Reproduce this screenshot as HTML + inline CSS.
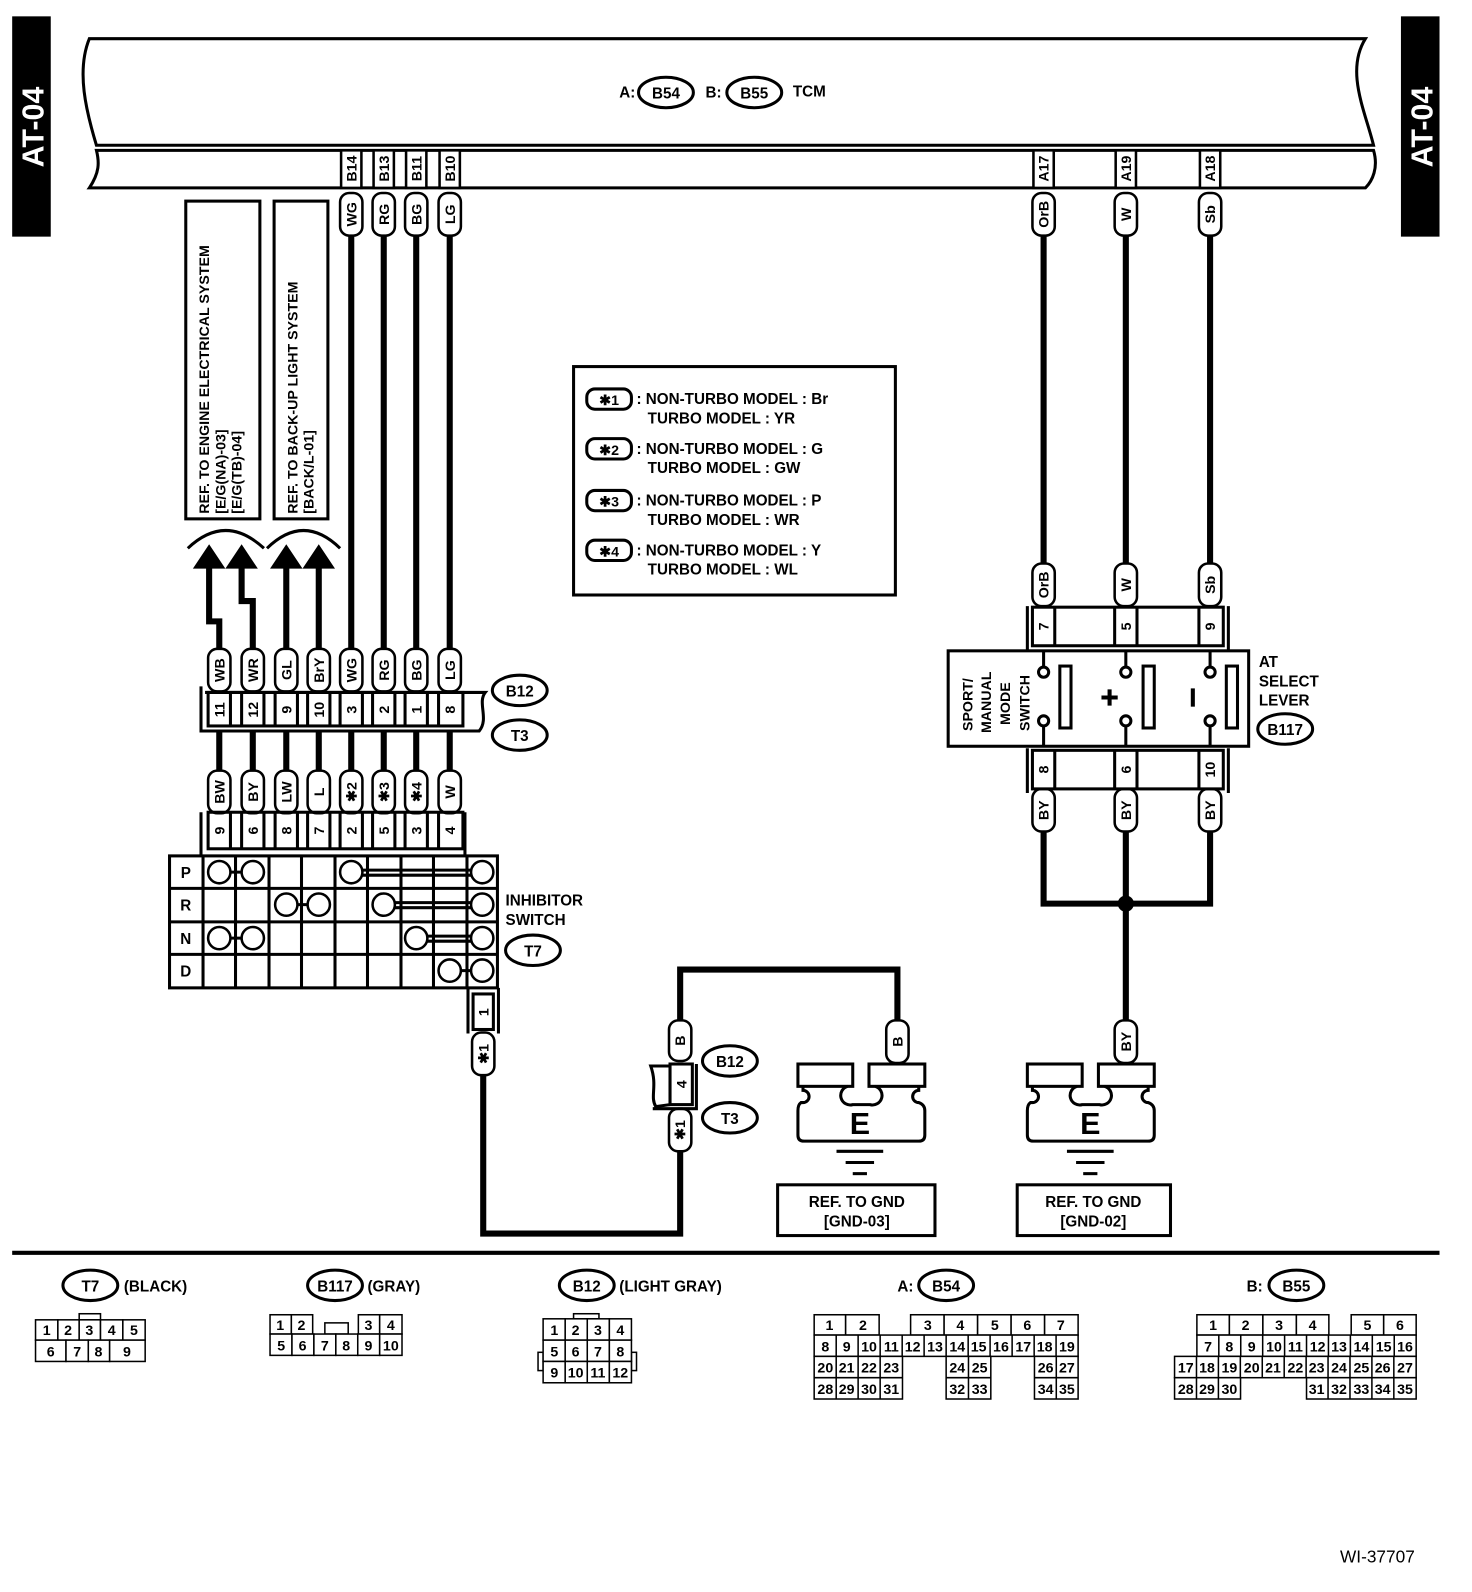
<!DOCTYPE html>
<html><head><meta charset="utf-8">
<style>
html,body{margin:0;padding:0;background:#fff;}
svg{display:block;}
text{font-family:"Liberation Sans",Arial,sans-serif;font-weight:bold;fill:#000;}
.w{fill:none;stroke:#000;stroke-width:6;}
.o{fill:#fff;stroke:#000;stroke-width:2.5;}
.b{fill:none;stroke:#000;stroke-width:3;}
.t{font-size:14px;}
.n{font-size:14px;font-weight:normal;}
</style></head><body>
<svg width="1472" height="1592" viewBox="0 0 1450 1568" xmlns="http://www.w3.org/2000/svg">
<rect x="12" y="16" width="38" height="217" fill="#000"/>
<text transform="translate(43,125) rotate(-90)" text-anchor="middle" font-size="30" style="fill:#fff">AT-04</text>
<rect x="1380" y="16" width="38" height="217" fill="#000"/>
<text transform="translate(1411,125) rotate(-90)" text-anchor="middle" font-size="30" style="fill:#fff">AT-04</text>

<path d="M88 38 L1345 38 C1325 70,1345 110,1353 143 L95 143 C85 110,75 70,88 38 Z" class="b"/>
<path d="M95 148 L1353 148 C1358 165,1352 178,1345 185 L88 185 C98 170,98 160,95 148 Z" class="b"/>
<text x="610" y="96" font-size="15">A:</text>
<ellipse cx="656" cy="91" rx="27" ry="15" class="b"/>
<text x="656" y="97" font-size="15" text-anchor="middle">B54</text>
<text x="695" y="96" font-size="15">B:</text>
<ellipse cx="743" cy="91" rx="27" ry="15" class="b"/>
<text x="743" y="97" font-size="15" text-anchor="middle">B55</text>
<text x="781" y="95" font-size="15">TCM</text>

<g class="o">
<rect x="336" y="148" width="20" height="37"/><rect x="368" y="148" width="20" height="37"/><rect x="400" y="148" width="20" height="37"/><rect x="433" y="148" width="20" height="37"/>
<rect x="1018" y="148" width="20" height="37"/><rect x="1099" y="148" width="20" height="37"/><rect x="1182" y="148" width="20" height="37"/>
</g>
<g class="t" text-anchor="middle">
<text transform="translate(351,166) rotate(-90)">B14</text>
<text transform="translate(383,166) rotate(-90)">B13</text>
<text transform="translate(415,166) rotate(-90)">B11</text>
<text transform="translate(448,166) rotate(-90)">B10</text>
<text transform="translate(1033,166) rotate(-90)">A17</text>
<text transform="translate(1114,166) rotate(-90)">A19</text>
<text transform="translate(1197,166) rotate(-90)">A18</text>
</g>

<g class="w">
<line x1="346" y1="230" x2="346" y2="640"/><line x1="378" y1="230" x2="378" y2="640"/><line x1="410" y1="230" x2="410" y2="640"/><line x1="443" y1="230" x2="443" y2="640"/>
<line x1="1028" y1="230" x2="1028" y2="556"/><line x1="1109" y1="230" x2="1109" y2="556"/><line x1="1192" y1="230" x2="1192" y2="556"/>
<path d="M1028 818 L1028 890 L1192 890 L1192 818 M1109 818 L1109 1006"/>
<path d="M670 1006 L670 955 L884 955 L884 1006"/>
<path d="M670 1134 L670 1215 L476 1215 L476 1058"/>
<line x1="216" y1="720" x2="216" y2="760"/><line x1="249" y1="720" x2="249" y2="760"/><line x1="282" y1="720" x2="282" y2="760"/><line x1="314" y1="720" x2="314" y2="760"/>
<line x1="346" y1="720" x2="346" y2="760"/><line x1="378" y1="720" x2="378" y2="760"/><line x1="410" y1="720" x2="410" y2="760"/><line x1="443" y1="720" x2="443" y2="760"/>
</g>
<circle cx="1109" cy="890" r="8" fill="#000"/>

<g class="w" stroke-width="7">
<path d="M206 556 L206 612 L216 612 L216 642"/>
<path d="M238 556 L238 592 L249 592 L249 642"/>
<path d="M282 556 L282 642"/>
<path d="M314 556 L314 642"/>
</g>
<g fill="#000">
<polygon points="206,536 190,560 222,560"/>
<polygon points="238,536 222,560 254,560"/>
<polygon points="282,536 266,560 298,560"/>
<polygon points="314,536 298,560 330,560"/>
</g>
<path d="M185 540 Q222 505 260 540" class="b" stroke-width="2.5"/>
<path d="M263 540 Q299 505 335 540" class="b" stroke-width="2.5"/>
<rect x="183" y="198" width="73" height="313" class="b"/>
<rect x="270" y="198" width="53" height="313" class="b"/>
<g font-size="14">
<text transform="translate(206,506) rotate(-90)">REF. TO ENGINE ELECTRICAL SYSTEM</text>
<text transform="translate(222,506) rotate(-90)">[E/G(NA)-03]</text>
<text transform="translate(238,506) rotate(-90)">[E/G(TB)-04]</text>
<text transform="translate(293,506) rotate(-90)">REF. TO BACK-UP LIGHT SYSTEM</text>
<text transform="translate(309,506) rotate(-90)">[BACK/L-01]</text>
</g>

<g class="o">
<rect x="335" y="190" width="22" height="42" rx="9"/><rect x="367" y="190" width="22" height="42" rx="9"/><rect x="399" y="190" width="22" height="42" rx="9"/><rect x="432" y="190" width="22" height="42" rx="9"/>
<rect x="1017" y="190" width="22" height="42" rx="9"/><rect x="1098" y="190" width="22" height="42" rx="9"/><rect x="1181" y="190" width="22" height="42" rx="9"/>
<rect x="1017" y="555" width="22" height="42" rx="9"/><rect x="1098" y="555" width="22" height="42" rx="9"/><rect x="1181" y="555" width="22" height="42" rx="9"/>
<rect x="1017" y="777" width="22" height="42" rx="9"/><rect x="1098" y="777" width="22" height="42" rx="9"/><rect x="1181" y="777" width="22" height="42" rx="9"/>
<rect x="1098" y="1005" width="22" height="42" rx="9"/>
<rect x="659" y="1005" width="22" height="40" rx="9"/><rect x="873" y="1005" width="22" height="42" rx="9"/>
<rect x="659" y="1092" width="22" height="42" rx="9"/>
<rect x="465" y="1017" width="22" height="42" rx="9"/>
<rect x="205" y="639" width="22" height="42" rx="9"/><rect x="238" y="639" width="22" height="42" rx="9"/><rect x="271" y="639" width="22" height="42" rx="9"/><rect x="303" y="639" width="22" height="42" rx="9"/>
<rect x="335" y="639" width="22" height="42" rx="9"/><rect x="367" y="639" width="22" height="42" rx="9"/><rect x="399" y="639" width="22" height="42" rx="9"/><rect x="432" y="639" width="22" height="42" rx="9"/>
<rect x="205" y="759" width="22" height="42" rx="9"/><rect x="238" y="759" width="22" height="42" rx="9"/><rect x="271" y="759" width="22" height="42" rx="9"/><rect x="303" y="759" width="22" height="42" rx="9"/>
<rect x="335" y="759" width="22" height="42" rx="9"/><rect x="367" y="759" width="22" height="42" rx="9"/><rect x="399" y="759" width="22" height="42" rx="9"/><rect x="432" y="759" width="22" height="42" rx="9"/>
</g>
<g class="t" text-anchor="middle">
<text transform="translate(351,211) rotate(-90)">WG</text><text transform="translate(383,211) rotate(-90)">RG</text><text transform="translate(415,211) rotate(-90)">BG</text><text transform="translate(448,211) rotate(-90)">LG</text>
<text transform="translate(1033,211) rotate(-90)">OrB</text><text transform="translate(1114,211) rotate(-90)">W</text><text transform="translate(1197,211) rotate(-90)">Sb</text>
<text transform="translate(1033,576) rotate(-90)">OrB</text><text transform="translate(1114,576) rotate(-90)">W</text><text transform="translate(1197,576) rotate(-90)">Sb</text>
<text transform="translate(1033,798) rotate(-90)">BY</text><text transform="translate(1114,798) rotate(-90)">BY</text><text transform="translate(1197,798) rotate(-90)">BY</text>
<text transform="translate(1114,1026) rotate(-90)">BY</text>
<text transform="translate(675,1025) rotate(-90)">B</text><text transform="translate(889,1026) rotate(-90)">B</text>
<text transform="translate(675,1113) rotate(-90)">✱1</text>
<text transform="translate(481,1038) rotate(-90)">✱1</text>
<text transform="translate(221,660) rotate(-90)">WB</text><text transform="translate(254,660) rotate(-90)">WR</text><text transform="translate(287,660) rotate(-90)">GL</text><text transform="translate(319,660) rotate(-90)">BrY</text>
<text transform="translate(351,660) rotate(-90)">WG</text><text transform="translate(383,660) rotate(-90)">RG</text><text transform="translate(415,660) rotate(-90)">BG</text><text transform="translate(448,660) rotate(-90)">LG</text>
<text transform="translate(221,780) rotate(-90)">BW</text><text transform="translate(254,780) rotate(-90)">BY</text><text transform="translate(287,780) rotate(-90)">LW</text><text transform="translate(319,780) rotate(-90)">L</text>
<text transform="translate(351,780) rotate(-90)">✱2</text><text transform="translate(383,780) rotate(-90)">✱3</text><text transform="translate(415,780) rotate(-90)">✱4</text><text transform="translate(448,780) rotate(-90)">W</text>
</g>

<path d="M198 676 L198 720 L472 720 C482 708,470 692,478 682 L202 682" class="b"/>
<rect x="205" y="682" width="251" height="33" class="b" stroke-width="2.5"/>
<g class="b" stroke-width="2.5">
<line x1="227" y1="682" x2="227" y2="715"/><line x1="238" y1="682" x2="238" y2="715"/><line x1="260" y1="682" x2="260" y2="715"/><line x1="271" y1="682" x2="271" y2="715"/>
<line x1="293" y1="682" x2="293" y2="715"/><line x1="303" y1="682" x2="303" y2="715"/><line x1="325" y1="682" x2="325" y2="715"/><line x1="335" y1="682" x2="335" y2="715"/>
<line x1="357" y1="682" x2="357" y2="715"/><line x1="367" y1="682" x2="367" y2="715"/><line x1="389" y1="682" x2="389" y2="715"/><line x1="399" y1="682" x2="399" y2="715"/>
<line x1="421" y1="682" x2="421" y2="715"/><line x1="432" y1="682" x2="432" y2="715"/>
</g>
<g class="t" text-anchor="middle">
<text transform="translate(221,699) rotate(-90)">11</text><text transform="translate(254,699) rotate(-90)">12</text><text transform="translate(287,699) rotate(-90)">9</text><text transform="translate(319,699) rotate(-90)">10</text>
<text transform="translate(351,699) rotate(-90)">3</text><text transform="translate(383,699) rotate(-90)">2</text><text transform="translate(415,699) rotate(-90)">1</text><text transform="translate(448,699) rotate(-90)">8</text>
</g>
<ellipse cx="512" cy="680" rx="27" ry="15" class="b"/><text x="512" y="686" font-size="15" text-anchor="middle">B12</text>
<ellipse cx="512" cy="724" rx="27" ry="15" class="b"/><text x="512" y="730" font-size="15" text-anchor="middle">T3</text>

<path d="M198 843 L198 800 M458 800 L458 843" class="b"/>
<rect x="205" y="800" width="251" height="36" class="b" stroke-width="2.5"/>
<g class="b" stroke-width="2.5">
<line x1="227" y1="800" x2="227" y2="836"/><line x1="238" y1="800" x2="238" y2="836"/><line x1="260" y1="800" x2="260" y2="836"/><line x1="271" y1="800" x2="271" y2="836"/>
<line x1="293" y1="800" x2="293" y2="836"/><line x1="303" y1="800" x2="303" y2="836"/><line x1="325" y1="800" x2="325" y2="836"/><line x1="335" y1="800" x2="335" y2="836"/>
<line x1="357" y1="800" x2="357" y2="836"/><line x1="367" y1="800" x2="367" y2="836"/><line x1="389" y1="800" x2="389" y2="836"/><line x1="399" y1="800" x2="399" y2="836"/>
<line x1="421" y1="800" x2="421" y2="836"/><line x1="432" y1="800" x2="432" y2="836"/>
</g>
<g class="t" text-anchor="middle">
<text transform="translate(221,818) rotate(-90)">9</text><text transform="translate(254,818) rotate(-90)">6</text><text transform="translate(287,818) rotate(-90)">8</text><text transform="translate(319,818) rotate(-90)">7</text>
<text transform="translate(351,818) rotate(-90)">2</text><text transform="translate(383,818) rotate(-90)">5</text><text transform="translate(415,818) rotate(-90)">3</text><text transform="translate(448,818) rotate(-90)">4</text>
</g>

<g class="b">
<rect x="167" y="843" width="323" height="130"/>
<line x1="167" y1="875" x2="490" y2="875"/><line x1="167" y1="908" x2="490" y2="908"/><line x1="167" y1="940" x2="490" y2="940"/>
<line x1="200" y1="843" x2="200" y2="973"/><line x1="232" y1="843" x2="232" y2="973"/><line x1="265" y1="843" x2="265" y2="973"/><line x1="297" y1="843" x2="297" y2="973"/>
<line x1="330" y1="843" x2="330" y2="973"/><line x1="362" y1="843" x2="362" y2="973"/><line x1="395" y1="843" x2="395" y2="973"/><line x1="427" y1="843" x2="427" y2="973"/><line x1="460" y1="843" x2="460" y2="973"/>
<line x1="216" y1="859" x2="249" y2="859"/><line x1="346" y1="857" x2="475" y2="857"/><line x1="346" y1="862" x2="475" y2="862"/>
<line x1="282" y1="891" x2="314" y2="891"/><line x1="378" y1="889" x2="475" y2="889"/><line x1="378" y1="894" x2="475" y2="894"/>
<line x1="216" y1="924" x2="249" y2="924"/><line x1="410" y1="922" x2="475" y2="922"/><line x1="410" y1="927" x2="475" y2="927"/>
<line x1="443" y1="956" x2="475" y2="956"/>
</g>
<g class="o" stroke-width="3">
<circle cx="216" cy="859" r="11"/><circle cx="249" cy="859" r="11"/><circle cx="346" cy="859" r="11"/><circle cx="475" cy="859" r="11"/>
<circle cx="282" cy="891" r="11"/><circle cx="314" cy="891" r="11"/><circle cx="378" cy="891" r="11"/><circle cx="475" cy="891" r="11"/>
<circle cx="216" cy="924" r="11"/><circle cx="249" cy="924" r="11"/><circle cx="410" cy="924" r="11"/><circle cx="475" cy="924" r="11"/>
<circle cx="443" cy="956" r="11"/><circle cx="475" cy="956" r="11"/>
</g>
<g font-size="15" text-anchor="middle">
<text x="183" y="865">P</text><text x="183" y="897">R</text><text x="183" y="930">N</text><text x="183" y="962">D</text>
</g>
<path d="M461 973 L461 1018 M491 973 L491 1018" class="b"/>
<rect x="466" y="979" width="20" height="35" class="b" stroke-width="2.5"/>
<text transform="translate(481,997) rotate(-90)" class="t" text-anchor="middle">1</text>
<text x="498" y="892" font-size="15">INHIBITOR</text>
<text x="498" y="911" font-size="15">SWITCH</text>
<ellipse cx="525" cy="936" rx="27" ry="15" class="b"/><text x="525" y="942" font-size="15" text-anchor="middle">T7</text>

<rect x="565" y="361" width="317" height="225" class="b"/>
<g font-size="15">
<rect x="578" y="383" width="44" height="20" rx="8" class="b" stroke-width="2.5"/><text x="600" y="399" text-anchor="middle" font-size="14">✱1</text>
<text x="627" y="398">: NON-TURBO MODEL  : Br</text><text x="638" y="417">TURBO MODEL  : YR</text>
<rect x="578" y="432" width="44" height="20" rx="8" class="b" stroke-width="2.5"/><text x="600" y="448" text-anchor="middle" font-size="14">✱2</text>
<text x="627" y="447">: NON-TURBO MODEL  : G</text><text x="638" y="466">TURBO MODEL  : GW</text>
<rect x="578" y="483" width="44" height="20" rx="8" class="b" stroke-width="2.5"/><text x="600" y="499" text-anchor="middle" font-size="14">✱3</text>
<text x="627" y="498">: NON-TURBO MODEL  : P</text><text x="638" y="517">TURBO MODEL  : WR</text>
<rect x="578" y="532" width="44" height="20" rx="8" class="b" stroke-width="2.5"/><text x="600" y="548" text-anchor="middle" font-size="14">✱4</text>
<text x="627" y="547">: NON-TURBO MODEL  : Y</text><text x="638" y="566">TURBO MODEL  : WL</text>
</g>

<path d="M1012 641 L1012 597 M1210 597 L1210 641 M1012 737 L1012 781 M1210 737 L1210 781" class="b"/>
<rect x="1017" y="598" width="188" height="38" class="b" stroke-width="2.5"/>
<rect x="1017" y="739" width="188" height="38" class="b" stroke-width="2.5"/>
<g class="b" stroke-width="2.5">
<line x1="1039" y1="598" x2="1039" y2="636"/><line x1="1098" y1="598" x2="1098" y2="636"/><line x1="1120" y1="598" x2="1120" y2="636"/><line x1="1181" y1="598" x2="1181" y2="636"/>
<line x1="1039" y1="739" x2="1039" y2="777"/><line x1="1098" y1="739" x2="1098" y2="777"/><line x1="1120" y1="739" x2="1120" y2="777"/><line x1="1181" y1="739" x2="1181" y2="777"/>
</g>
<g class="t" text-anchor="middle">
<text transform="translate(1033,617) rotate(-90)">7</text><text transform="translate(1114,617) rotate(-90)">5</text><text transform="translate(1197,617) rotate(-90)">9</text>
<text transform="translate(1033,758) rotate(-90)">8</text><text transform="translate(1114,758) rotate(-90)">6</text><text transform="translate(1197,758) rotate(-90)">10</text>
</g>
<rect x="934" y="641" width="296" height="94" class="b"/>
<g class="b" stroke-width="2.5">
<line x1="1028" y1="641" x2="1028" y2="657"/><line x1="1109" y1="641" x2="1109" y2="657"/><line x1="1192" y1="641" x2="1192" y2="657"/>
<line x1="1028" y1="716" x2="1028" y2="735"/><line x1="1109" y1="716" x2="1109" y2="735"/><line x1="1192" y1="716" x2="1192" y2="735"/>
<circle cx="1028" cy="662" r="5"/><circle cx="1109" cy="662" r="5"/><circle cx="1192" cy="662" r="5"/>
<circle cx="1028" cy="710" r="5"/><circle cx="1109" cy="710" r="5"/><circle cx="1192" cy="710" r="5"/>
<rect x="1044" y="656" width="11" height="61"/><rect x="1126" y="656" width="11" height="61"/><rect x="1208" y="656" width="11" height="61"/>
</g>
<path d="M1085 687 L1101 687 M1093 679 L1093 695" stroke="#000" stroke-width="4"/>
<line x1="1175" y1="678" x2="1175" y2="696" stroke="#000" stroke-width="4"/>
<g font-size="14">
<text transform="translate(958,720) rotate(-90)">SPORT/</text>
<text transform="translate(976,722) rotate(-90)">MANUAL</text>
<text transform="translate(995,714) rotate(-90)">MODE</text>
<text transform="translate(1014,720) rotate(-90)">SWITCH</text>
</g>
<text x="1240" y="657" font-size="15">AT</text>
<text x="1240" y="676" font-size="15">SELECT</text>
<text x="1240" y="695" font-size="15">LEVER</text>
<ellipse cx="1266" cy="718" rx="27" ry="15" class="b"/><text x="1266" y="724" font-size="15" text-anchor="middle">B117</text>

<path d="M641 1050 L660 1050 L660 1088 L646 1090 C640 1080,648 1070,641 1050 Z" class="b" stroke-width="2.5"/>
<rect x="660" y="1048" width="22" height="40" class="b" stroke-width="2.5"/>
<path d="M643 1092 L686 1092 L686 1048" class="b" stroke-width="2"/>
<text transform="translate(676,1068) rotate(-90)" class="t" text-anchor="middle">4</text>
<ellipse cx="719" cy="1045" rx="27" ry="15" class="b"/><text x="719" y="1051" font-size="15" text-anchor="middle">B12</text>
<ellipse cx="719" cy="1101" rx="27" ry="15" class="b"/><text x="719" y="1107" font-size="15" text-anchor="middle">T3</text>

<g class="b">
<rect x="786" y="1048" width="54" height="22"/><rect x="856" y="1048" width="55" height="22"/>
<path d="M791 1070 L791 1074 A6 6 0 0 1 791 1086 L789 1086 Q786 1088 786 1094 L786 1118 Q786 1124 792 1124 L905 1124 Q911 1124 911 1118 L911 1094 Q911 1088 905 1086 A6 6 0 0 1 905 1074 L905 1070 M835 1070 A7 7 0 0 0 840 1088 L857 1088 A7 7 0 0 0 862 1070"/>
<rect x="1012" y="1048" width="54" height="22"/><rect x="1082" y="1048" width="55" height="22"/>
<path d="M1017 1070 L1017 1074 A6 6 0 0 1 1017 1086 L1015 1086 Q1012 1088 1012 1094 L1012 1118 Q1012 1124 1018 1124 L1131 1124 Q1137 1124 1137 1118 L1137 1094 Q1137 1088 1131 1086 A6 6 0 0 1 1131 1074 L1131 1070 M1061 1070 A7 7 0 0 0 1066 1088 L1083 1088 A7 7 0 0 0 1088 1070"/>
</g>
<text x="847" y="1117" font-size="30" text-anchor="middle">E</text>
<text x="1074" y="1117" font-size="30" text-anchor="middle">E</text>
<g stroke="#000" stroke-width="3">
<line x1="824" y1="1134" x2="870" y2="1134"/><line x1="833" y1="1145" x2="861" y2="1145"/><line x1="840" y1="1156" x2="854" y2="1156"/>
<line x1="1051" y1="1134" x2="1097" y2="1134"/><line x1="1060" y1="1145" x2="1088" y2="1145"/><line x1="1067" y1="1156" x2="1081" y2="1156"/>
</g>
<rect x="766" y="1167" width="155" height="50" class="b"/>
<text x="844" y="1189" font-size="15" text-anchor="middle">REF. TO GND</text><text x="844" y="1208" font-size="15" text-anchor="middle">[GND-03]</text>
<rect x="1002" y="1167" width="151" height="50" class="b"/>
<text x="1077" y="1189" font-size="15" text-anchor="middle">REF. TO GND</text><text x="1077" y="1208" font-size="15" text-anchor="middle">[GND-02]</text>

<line x1="12" y1="1234" x2="1418" y2="1234" stroke="#000" stroke-width="4"/>

<g font-size="15">
<ellipse cx="89" cy="1266" rx="27" ry="15" class="b"/><text x="89" y="1272" text-anchor="middle">T7</text><text x="122" y="1272">(BLACK)</text>
<ellipse cx="330" cy="1266" rx="27" ry="15" class="b"/><text x="330" y="1272" text-anchor="middle">B117</text><text x="362" y="1272">(GRAY)</text>
<ellipse cx="578" cy="1266" rx="27" ry="15" class="b"/><text x="578" y="1272" text-anchor="middle">B12</text><text x="610" y="1272">(LIGHT GRAY)</text>
<text x="884" y="1272">A:</text><ellipse cx="932" cy="1266" rx="27" ry="15" class="b"/><text x="932" y="1272" text-anchor="middle">B54</text>
<text x="1228" y="1272">B:</text><ellipse cx="1277" cy="1266" rx="27" ry="15" class="b"/><text x="1277" y="1272" text-anchor="middle">B55</text>
</g>
<g fill="#fff" stroke="#000" stroke-width="1.5">
<rect x="78" y="1294" width="21" height="6"/>
<rect x="35" y="1300" width="22" height="20"/><rect x="57" y="1300" width="21" height="20"/><rect x="78" y="1300" width="21" height="20"/><rect x="99" y="1300" width="22" height="20"/><rect x="121" y="1300" width="22" height="20"/>
<rect x="35" y="1320" width="30" height="21"/><rect x="65" y="1320" width="22" height="21"/><rect x="87" y="1320" width="21" height="21"/><rect x="108" y="1320" width="35" height="21"/>
<rect x="266" y="1295" width="21" height="19"/><rect x="287" y="1295" width="21" height="19"/><rect x="320" y="1303" width="23" height="11"/><rect x="353" y="1295" width="21" height="19"/><rect x="374" y="1295" width="22" height="19"/>
<rect x="266" y="1314" width="21.6" height="21"/><rect x="287.6" y="1314" width="21.6" height="21"/><rect x="309.2" y="1314" width="21.6" height="21"/><rect x="330.8" y="1314" width="21.6" height="21"/><rect x="352.4" y="1314" width="21.6" height="21"/><rect x="374" y="1314" width="22" height="21"/>
<rect x="565" y="1294" width="25" height="5"/><rect x="530" y="1332" width="5" height="18"/><rect x="622" y="1332" width="5" height="18"/>
<rect x="535" y="1299" width="21.75" height="21"/><rect x="556.75" y="1299" width="21.75" height="21"/><rect x="578.5" y="1299" width="21.75" height="21"/><rect x="600.25" y="1299" width="21.75" height="21"/>
<rect x="535" y="1320" width="21.75" height="21"/><rect x="556.75" y="1320" width="21.75" height="21"/><rect x="578.5" y="1320" width="21.75" height="21"/><rect x="600.25" y="1320" width="21.75" height="21"/>
<rect x="535" y="1341" width="21.75" height="21"/><rect x="556.75" y="1341" width="21.75" height="21"/><rect x="578.5" y="1341" width="21.75" height="21"/><rect x="600.25" y="1341" width="21.75" height="21"/>
<rect x="802" y="1295" width="31" height="20"/><rect x="833" y="1295" width="33" height="20"/><rect x="897" y="1295" width="33" height="20"/><rect x="930" y="1295" width="33" height="20"/><rect x="963" y="1295" width="33" height="20"/><rect x="996" y="1295" width="33" height="20"/><rect x="1029" y="1295" width="33" height="20"/>
<rect x="802" y="1315" width="260" height="21"/>
<rect x="802" y="1336" width="87" height="42"/><rect x="932" y="1336" width="44" height="42"/><rect x="1019" y="1336" width="43" height="42"/>
<rect x="1179" y="1295" width="32" height="20"/><rect x="1211" y="1295" width="33" height="20"/><rect x="1244" y="1295" width="33" height="20"/><rect x="1277" y="1295" width="32" height="20"/><rect x="1331" y="1295" width="32" height="20"/><rect x="1363" y="1295" width="32" height="20"/>
<rect x="1179" y="1315" width="216" height="21"/>
<rect x="1157" y="1336" width="238" height="21"/>
<rect x="1157" y="1357" width="65" height="21"/><rect x="1287" y="1357" width="108" height="21"/>
</g>
<g stroke="#000" stroke-width="1.5">
<path d="M823.7 1315 V1336 M845.3 1315 V1336 M867 1315 V1336 M888.7 1315 V1336 M910.3 1315 V1336 M932 1315 V1336 M953.7 1315 V1336 M975.3 1315 V1336 M997 1315 V1336 M1018.7 1315 V1336 M1040.3 1315 V1336"/>
<path d="M802 1357 H889 M932 1357 H976 M1019 1357 H1062 M823.7 1336 V1378 M845.3 1336 V1378 M867 1336 V1378 M954 1336 V1378 M1040.5 1336 V1378"/>
<path d="M1200.6 1315 V1336 M1222.2 1315 V1336 M1243.8 1315 V1336 M1265.4 1315 V1336 M1287 1315 V1336 M1308.6 1315 V1336 M1330.2 1315 V1336 M1351.8 1315 V1336 M1373.4 1315 V1336"/>
<path d="M1178.6 1336 V1378 M1200.2 1336 V1378 M1221.8 1336 V1357 M1243.4 1336 V1357 M1265 1336 V1357 M1286.6 1336 V1357 M1308.2 1336 V1378 M1329.8 1336 V1378 M1351.4 1336 V1378 M1373 1336 V1378"/>
</g>
<g class="n" text-anchor="middle">
<text x="46" y="1315">1</text><text x="67" y="1315">2</text><text x="88" y="1315">3</text><text x="110" y="1315">4</text><text x="132" y="1315">5</text>
<text x="50" y="1336">6</text><text x="76" y="1336">7</text><text x="97" y="1336">8</text><text x="125" y="1336">9</text>
<text x="276" y="1310">1</text><text x="297" y="1310">2</text><text x="363" y="1310">3</text><text x="385" y="1310">4</text>
<text x="277" y="1330">5</text><text x="298" y="1330">6</text><text x="320" y="1330">7</text><text x="341" y="1330">8</text><text x="363" y="1330">9</text><text x="385" y="1330">10</text>
<text x="546" y="1315">1</text><text x="567" y="1315">2</text><text x="589" y="1315">3</text><text x="611" y="1315">4</text>
<text x="546" y="1336">5</text><text x="567" y="1336">6</text><text x="589" y="1336">7</text><text x="611" y="1336">8</text>
<text x="546" y="1357">9</text><text x="567" y="1357">10</text><text x="589" y="1357">11</text><text x="611" y="1357">12</text>
<text x="817" y="1310">1</text><text x="850" y="1310">2</text><text x="914" y="1310">3</text><text x="946" y="1310">4</text><text x="980" y="1310">5</text><text x="1012" y="1310">6</text><text x="1045" y="1310">7</text>
<text x="813" y="1331">8</text><text x="834" y="1331">9</text><text x="856" y="1331">10</text><text x="878" y="1331">11</text><text x="899" y="1331">12</text><text x="921" y="1331">13</text><text x="943" y="1331">14</text><text x="964" y="1331">15</text><text x="986" y="1331">16</text><text x="1008" y="1331">17</text><text x="1029" y="1331">18</text><text x="1051" y="1331">19</text>
<text x="813" y="1352">20</text><text x="834" y="1352">21</text><text x="856" y="1352">22</text><text x="878" y="1352">23</text><text x="943" y="1352">24</text><text x="965" y="1352">25</text><text x="1030" y="1352">26</text><text x="1051" y="1352">27</text>
<text x="813" y="1373">28</text><text x="834" y="1373">29</text><text x="856" y="1373">30</text><text x="878" y="1373">31</text><text x="943" y="1373">32</text><text x="965" y="1373">33</text><text x="1030" y="1373">34</text><text x="1051" y="1373">35</text>
<text x="1195" y="1310">1</text><text x="1227" y="1310">2</text><text x="1260" y="1310">3</text><text x="1293" y="1310">4</text><text x="1347" y="1310">5</text><text x="1379" y="1310">6</text>
<text x="1190" y="1331">7</text><text x="1211" y="1331">8</text><text x="1233" y="1331">9</text><text x="1255" y="1331">10</text><text x="1276" y="1331">11</text><text x="1298" y="1331">12</text><text x="1319" y="1331">13</text><text x="1341" y="1331">14</text><text x="1363" y="1331">15</text><text x="1384" y="1331">16</text>
<text x="1168" y="1352">17</text><text x="1189" y="1352">18</text><text x="1211" y="1352">19</text><text x="1233" y="1352">20</text><text x="1254" y="1352">21</text><text x="1276" y="1352">22</text><text x="1297" y="1352">23</text><text x="1319" y="1352">24</text><text x="1341" y="1352">25</text><text x="1362" y="1352">26</text><text x="1384" y="1352">27</text>
<text x="1168" y="1373">28</text><text x="1189" y="1373">29</text><text x="1211" y="1373">30</text><text x="1297" y="1373">31</text><text x="1319" y="1373">32</text><text x="1341" y="1373">33</text><text x="1362" y="1373">34</text><text x="1384" y="1373">35</text>
</g>
<text x="1320" y="1539" font-size="17" style="font-weight:normal">WI-37707</text>
</svg>
</body></html>
